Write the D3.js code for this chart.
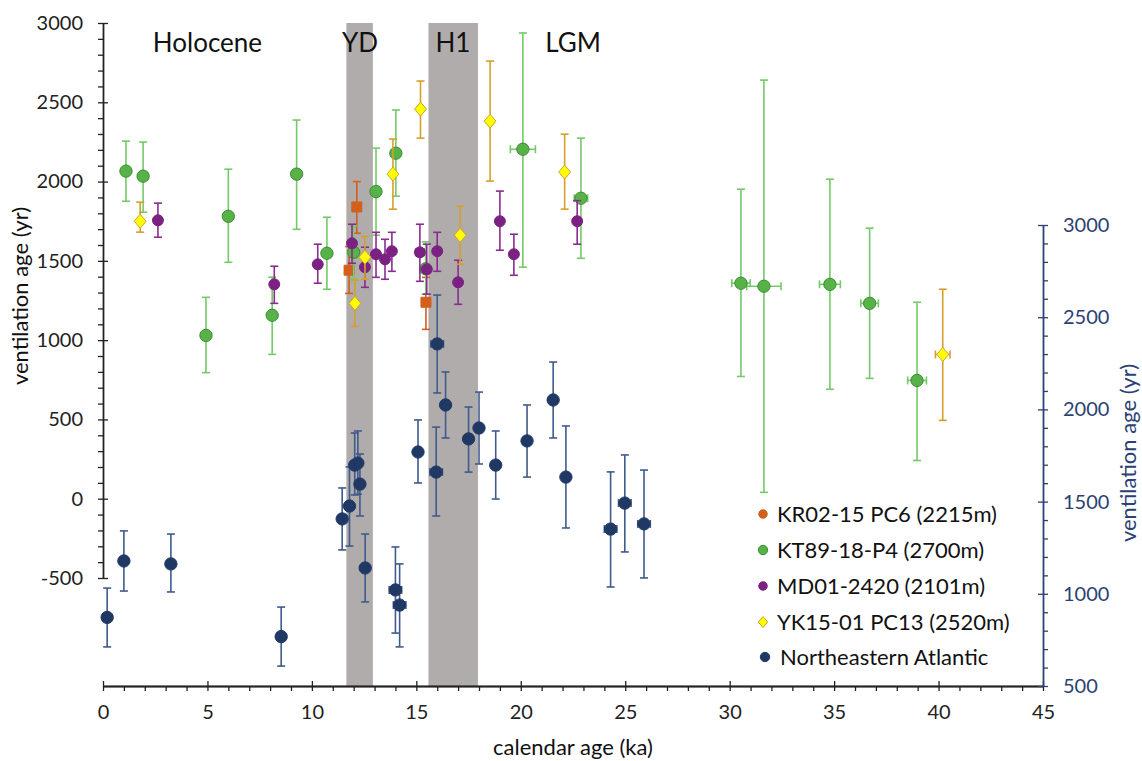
<!DOCTYPE html>
<html>
<head>
<meta charset="utf-8">
<script src="https://cdn.jsdelivr.net/npm/d3@7"></script>
<style>
  body { margin: 0; background: #fff; }
  svg text { font-family: Lato, "Open Sans", sans-serif; }
</style>
</head>
<body>
<script>
// each row: [calendar age (ka), ventilation age (yr), lower, upper, age error (ka)]
var kr02 = [
  [11.78, 1441, 1295, 1590, 0.2],
  [12.15, 1840, 1674, 2000, 0],
  [15.46, 1239, 1068, 1396, 0]
];

var kt89 = [
  [1.1, 2066, 1876, 2255, 0],
  [1.92, 2034, 1807, 2249, 0],
  [4.93, 1030, 795, 1270, 0],
  [6.0, 1781, 1491, 2078, 0],
  [8.1, 1157, 910, 1397, 0],
  [9.27, 2047, 1699, 2388, 0],
  [10.72, 1548, 1321, 1775, 0],
  [12.0, 1554, 1384, 1720, 0],
  [13.07, 1937, 1662, 2211, 0],
  [14.02, 2179, 1908, 2451, 0],
  [15.45, 1450, 1290, 1620, 0],
  [20.1, 2204, 1460, 2937, 0.6],
  [22.88, 1895, 1516, 2274, 0.32],
  [30.54, 1359, 771, 1952, 0.44],
  [31.64, 1340, 40, 2640, 0.82],
  [34.8, 1352, 690, 2015, 0.5],
  [36.7, 1232, 759, 1706, 0.42],
  [38.97, 746, 241, 1239, 0.45]
];

var md01 = [
  [2.63, 1756, 1649, 1864, 0],
  [8.2, 1352, 1232, 1466, 0],
  [10.28, 1478, 1359, 1605, 0],
  [11.92, 1611, 1485, 1731, 0],
  [12.54, 1460, 1333, 1586, 0],
  [13.07, 1542, 1396, 1680, 0],
  [13.5, 1510, 1384, 1636, 0],
  [13.83, 1561, 1434, 1680, 0],
  [15.17, 1554, 1371, 1731, 0.2],
  [15.5, 1447, 1290, 1605, 0],
  [16.0, 1561, 1434, 1680, 0],
  [17.0, 1365, 1226, 1504, 0],
  [19.0, 1750, 1567, 1940, 0],
  [19.67, 1542, 1409, 1668, 0],
  [22.7, 1750, 1605, 1880, 0]
];

var yk15 = [
  [1.78, 1750, 1681, 1870, 0],
  [12.06, 1232, 1087, 1378, 0],
  [12.54, 1523, 1384, 1655, 0],
  [13.88, 2047, 1826, 2268, 0],
  [15.2, 2457, 2274, 2634, 0],
  [17.1, 1662, 1479, 1845, 0],
  [18.53, 2381, 2003, 2760, 0],
  [22.1, 2060, 1826, 2299, 0],
  [40.2, 910, 494, 1321, 0.35]
];

// plotted against the right hand axis
var neAtlantic = [
  [0.2, 872, 712, 1031, 0],
  [1.0, 1178, 1015, 1341, 0],
  [3.25, 1162, 1010, 1324, 0],
  [8.53, 768, 608, 928, 0],
  [11.45, 1406, 1238, 1574, 0],
  [11.8, 1476, 1259, 1688, 0.15],
  [12.05, 1698, 1536, 1872, 0],
  [12.2, 1709, 1540, 1883, 0],
  [12.3, 1595, 1422, 1758, 0],
  [12.55, 1140, 956, 1324, 0],
  [14.0, 1021, 787, 1254, 0.3],
  [14.2, 939, 712, 1162, 0.3],
  [15.08, 1769, 1601, 1943, 0],
  [15.95, 1660, 1422, 1904, 0.3],
  [16.0, 2355, 2089, 2620, 0.3],
  [16.4, 2024, 1845, 2203, 0],
  [17.5, 1840, 1660, 2013, 0],
  [18.0, 1899, 1704, 2094, 0],
  [18.8, 1698, 1514, 1883, 0],
  [20.3, 1829, 1633, 2024, 0],
  [21.55, 2051, 1845, 2257, 0],
  [22.16, 1633, 1357, 1910, 0],
  [24.3, 1351, 1037, 1661, 0.3],
  [24.98, 1492, 1227, 1753, 0.3],
  [25.9, 1379, 1086, 1671, 0.3]
];

var legendNames = ["KR02-15 PC6 (2215m)", "KT89-18-P4 (2700m)", "MD01-2420 (2101m)",
                   "YK15-01 PC13 (2520m)", "Northeastern Atlantic"];

// shaded periods [start, end] in ka
var periodNames = ["YD", "H1"];
var periodSpans = [[11.65, 12.92], [15.58, 17.95]];

var eraLabels = ["Holocene", "YD", "H1", "LGM"];
var eraPos = [5.0, 12.3, 16.75, 22.5];

var xTicks = d3.range(0, 46, 5);
var leftTicks = d3.range(-500, 3001, 500);
var rightTicks = d3.range(500, 3001, 500);

var svg_width = 1142;
var svg_height = 761;

var xScale = d3.scaleLinear().domain([0, 45]).range([103, 1043]);
var yLeft = d3.scaleLinear().domain([-500, 3000]).range([578, 23]);
var yRight = d3.scaleLinear().domain([500, 3000]).range([686, 225]);
var plotBottom = 686;
var plotTop = 23;

var navy = "#1f3864";
var rightColor = "#2a4273";
var fmt = d => String(d);   // plain hyphen for negatives, no thousands comma

var svg = d3.select("body").append("svg")
  .attr("width", svg_width)
  .attr("height", svg_height);

// grey bands for YD and H1
svg.selectAll("rect.band")
  .data(periodSpans)
  .enter()
  .append("rect")
  .attr("class", "band")
  .attr("x", d => xScale(d[0]))
  .attr("width", d => xScale(d[1]) - xScale(d[0]))
  .attr("y", plotTop)
  .attr("height", plotBottom - plotTop)
  .attr("fill", "#b0acab");

// period / era labels
svg.selectAll("text.era")
  .data(eraLabels)
  .enter()
  .append("text")
  .attr("class", "era")
  .attr("x", (d, i) => xScale(eraPos[i]))
  .attr("y", 52)
  .attr("text-anchor", "middle")
  .style("font-size", "26px")
  .attr("fill", "#111")
  .text(d => d);

// ---------- axes ----------
function styleAxis(g, color) {
  g.selectAll("path, line").attr("stroke", color).attr("stroke-width", 1.3);
  g.selectAll("text").attr("fill", color).style("font-size", "20px")
    .style("font-family", "Lato, 'Open Sans', sans-serif");
}

// x axis: crossing major ticks + minor ticks below
svg.append("g")
  .attr("transform", "translate(0," + plotBottom + ")")
  .call(d3.axisBottom(xScale).tickValues(d3.range(0, 46, 1).filter(v => v % 5 != 0))
    .tickSize(5).tickSizeOuter(0).tickFormat(""))
  .call(g => styleAxis(g, "#222"));
svg.append("g")
  .attr("transform", "translate(0," + plotBottom + ")")
  .call(d3.axisBottom(xScale).tickValues(xTicks).tickSize(-5).tickSizeOuter(0).tickFormat(""))
  .call(g => styleAxis(g, "#222"));
svg.append("g")
  .attr("transform", "translate(0," + plotBottom + ")")
  .call(d3.axisBottom(xScale).tickValues(xTicks).tickSize(5).tickSizeOuter(0).tickPadding(14).tickFormat(fmt))
  .call(g => styleAxis(g, "#222"));

// left axis
svg.append("g")
  .attr("transform", "translate(" + xScale(0) + ",0)")
  .call(d3.axisLeft(yLeft).tickValues(d3.range(-500, 3001, 100).filter(v => v % 500 != 0))
    .tickSize(5).tickSizeOuter(0).tickFormat(""))
  .call(g => styleAxis(g, "#222"));
svg.append("g")
  .attr("transform", "translate(" + xScale(0) + ",0)")
  .call(d3.axisLeft(yLeft).tickValues(leftTicks).tickSize(-5).tickSizeOuter(0).tickFormat(""))
  .call(g => styleAxis(g, "#222"));
svg.append("g")
  .attr("transform", "translate(" + xScale(0) + ",0)")
  .call(d3.axisLeft(yLeft).tickValues(leftTicks).tickSize(5).tickSizeOuter(0).tickPadding(15).tickFormat(fmt))
  .call(g => styleAxis(g, "#222"));

// right axis (Northeastern Atlantic)
svg.append("g")
  .attr("transform", "translate(" + xScale(45) + ",0)")
  .call(d3.axisRight(yRight).tickValues(d3.range(500, 3001, 100).filter(v => v % 500 != 0))
    .tickSize(5).tickSizeOuter(0).tickFormat(""))
  .call(g => styleAxis(g, rightColor));
svg.append("g")
  .attr("transform", "translate(" + xScale(45) + ",0)")
  .call(d3.axisRight(yRight).tickValues(rightTicks).tickSize(-5).tickSizeOuter(0).tickFormat(""))
  .call(g => styleAxis(g, rightColor));
svg.append("g")
  .attr("transform", "translate(" + xScale(45) + ",0)")
  .call(d3.axisRight(yRight).tickValues(rightTicks).tickSize(5).tickSizeOuter(0).tickPadding(15).tickFormat(fmt))
  .call(g => styleAxis(g, rightColor));

// axis titles
svg.append("text")
  .attr("text-anchor", "middle")
  .attr("transform", "translate(28,296) rotate(-90)")
  .style("font-size", "22px")
  .attr("fill", "#111")
  .text("ventilation age (yr)");

svg.append("text")
  .attr("text-anchor", "middle")
  .attr("transform", "translate(1136,453) rotate(-90)")
  .style("font-size", "22px")
  .attr("fill", rightColor)
  .text("ventilation age (yr)");

svg.append("text")
  .attr("text-anchor", "middle")
  .attr("x", 573)
  .attr("y", 755)
  .style("font-size", "22px")
  .attr("fill", "#111")
  .text("calendar age (ka)");

// ---------- series ----------
var diamondPath = function(s) {
  return "M0," + (-s) + "L" + (s * 0.85) + ",0L0," + s + "L" + (-s * 0.85) + ",0Z";
};

var seriesList = [
  { data: kr02, y: yLeft, bar: "#d2601c", fill: "#d2601c", stroke: "#d2601c", shape: "square" },
  { data: kt89, y: yLeft, bar: "#74c968", fill: "#57b347", stroke: "#3d8a34", shape: "circle" },
  { data: md01, y: yLeft, bar: "#8a2b90", fill: "#7a2182", stroke: "#7a2182", shape: "circle5" },
  { data: yk15, y: yLeft, bar: "#d4a02c", fill: "#ffff00", stroke: "#d4a02c", shape: "diamond" },
  { data: neAtlantic, y: yRight, bar: "#3f5a8c", fill: navy, stroke: navy, shape: "circle" }
];

var cap = 4;

seriesList.forEach(function(s) {
  var g = svg.append("g");

  // vertical error bars
  g.selectAll("line.ebar")
    .data(s.data)
    .enter()
    .append("line")
    .attr("x1", d => xScale(d[0]))
    .attr("x2", d => xScale(d[0]))
    .attr("y1", d => s.y(d[2]))
    .attr("y2", d => s.y(d[3]))
    .attr("stroke", s.bar)
    .attr("stroke-width", 1.6);

  [2, 3].forEach(function(k) {
    g.selectAll("line.cap" + k)
      .data(s.data)
      .enter()
      .append("line")
      .attr("x1", d => xScale(d[0]) - cap)
      .attr("x2", d => xScale(d[0]) + cap)
      .attr("y1", d => s.y(d[k]))
      .attr("y2", d => s.y(d[k]))
      .attr("stroke", s.bar)
      .attr("stroke-width", 1.6);
  });

  // horizontal (age) error bars
  var withAgeErr = s.data.filter(d => d[4] > 0);
  g.selectAll("line.hbar")
    .data(withAgeErr)
    .enter()
    .append("line")
    .attr("x1", d => xScale(d[0] - d[4]))
    .attr("x2", d => xScale(d[0] + d[4]))
    .attr("y1", d => s.y(d[1]))
    .attr("y2", d => s.y(d[1]))
    .attr("stroke", s.bar)
    .attr("stroke-width", 1.6);
  [-1, 1].forEach(function(sign) {
    g.selectAll("line.hcap" + sign)
      .data(withAgeErr)
      .enter()
      .append("line")
      .attr("x1", d => xScale(d[0] + sign * d[4]))
      .attr("x2", d => xScale(d[0] + sign * d[4]))
      .attr("y1", d => s.y(d[1]) - cap)
      .attr("y2", d => s.y(d[1]) + cap)
      .attr("stroke", s.bar)
      .attr("stroke-width", 1.6);
  });

  // markers
  var pts = g.selectAll("path.pt")
    .data(s.data)
    .enter()
    .append("path")
    .attr("transform", d => "translate(" + xScale(d[0]) + "," + s.y(d[1]) + ")")
    .attr("fill", s.fill)
    .attr("stroke", s.stroke)
    .attr("stroke-width", 1);

  if (s.shape == "square") pts.attr("d", "M-5,-5H5V5H-5Z");
  else if (s.shape == "diamond") pts.attr("d", diamondPath(7));
  else if (s.shape == "circle5") pts.attr("d", d3.symbol(d3.symbolCircle, Math.PI * 30)());
  else pts.attr("d", d3.symbol(d3.symbolCircle, Math.PI * 38)());
});

// ---------- legend ----------
var legendY = [514, 550, 586, 622, 657];
var legendX = 763;

var legend = svg.append("g");
legend.selectAll("path.lg")
  .data(seriesList)
  .enter()
  .append("path")
  .attr("transform", (d, i) => "translate(" + (legendX + (i == 4 ? 2 : 0)) + "," + legendY[i] + ")")
  .attr("d", (d, i) => d.shape == "diamond" ? diamondPath(5.5)
                       : d3.symbol(d3.symbolCircle, Math.PI * (i == 0 || i == 2 ? 18 : 22))())
  .attr("fill", d => d.fill)
  .attr("stroke", d => d.stroke)
  .attr("stroke-width", 1);

legend.selectAll("text")
  .data(legendNames)
  .enter()
  .append("text")
  .attr("x", (d, i) => legendX + 14 + (i == 4 ? 3 : 0))
  .attr("y", (d, i) => legendY[i] + 8)
  .style("font-size", "22px")
  .attr("fill", "#111")
  .text(d => d);
</script>
</body>
</html>
